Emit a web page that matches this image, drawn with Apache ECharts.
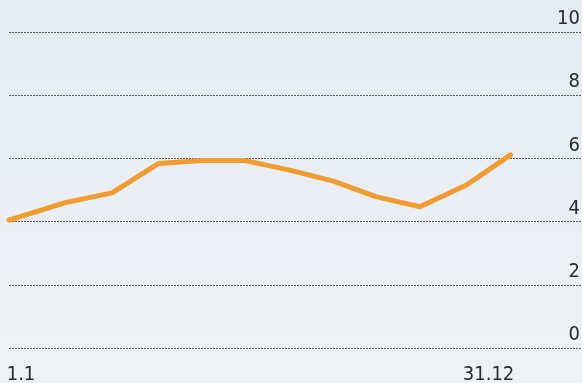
<!DOCTYPE html>
<html>
<head>
<meta charset="utf-8">
<script src="https://cdn.jsdelivr.net/npm/echarts@6/dist/echarts.min.js"></script>
<style>
  html, body { margin: 0; padding: 0; }
  #main { width: 582px; height: 383px; }
</style>
</head>
<body>
<div id="main"></div>
<script>
// day of year (1.1 = 0, 31.12 = 365) and value
var days = [0, 41, 75, 109, 141, 172, 205, 236, 267, 299, 333, 365];
var values = [4.05, 4.6, 4.91, 5.84, 5.93, 5.93, 5.62, 5.28, 4.79, 4.47, 5.16, 6.11];
var xTickLabels = { 0: '1.1', 365: '31.12' };
var yTicks = [0, 2, 4, 6, 8, 10];

var font = "'DejaVu Sans Condensed', 'DejaVu Sans', sans-serif";

var chart = echarts.init(document.getElementById('main'));

var labelStyle = { fontFamily: font, fontSize: 20, color: '#2b2b2b' };

var option = {
  backgroundColor: new echarts.graphic.LinearGradient(0, 0, 0, 1, [
    { offset: 0, color: '#e3ebf3' },
    { offset: 1, color: '#eef2f6' }
  ]),
  animation: false,
  grid: {
    left: 9,
    right: 0,
    top: 32,
    bottom: 35,
    containLabel: false,
    outerBoundsMode: 'none'
  },
  xAxis: {
    type: 'value',
    min: 0,
    max: 417,
    interval: 365,
    axisLine: { show: false },
    axisTick: { show: false },
    splitLine: { show: false },
    axisLabel: Object.assign({
      showMaxLabel: false,
      margin: 17,
      formatter: function (v) {
        if (v === 0) return '{a|' + xTickLabels[0] + '}';
        if (v === 365) return '{b|' + xTickLabels[365] + '}';
        return '';
      },
      rich: {
        a: Object.assign({ padding: [0, 0, 0, 24] }, labelStyle),
        b: Object.assign({ padding: [0, 44, 0, 0] }, labelStyle)
      }
    }, labelStyle)
  },
  yAxis: {
    type: 'value',
    position: 'right',
    min: yTicks[0],
    max: yTicks[yTicks.length - 1],
    interval: 2,
    axisLine: { show: false },
    axisTick: { show: false },
    splitLine: {
      lineStyle: { color: '#5a5a5a', width: 1, type: [2, 1] }
    },
    axisLabel: Object.assign({
      inside: true,
      margin: 2,
      verticalAlign: 'bottom',
      padding: [0, 0, 3, 0]
    }, labelStyle)
  },
  series: [{
    type: 'line',
    data: days.map(function (d, i) { return [d, values[i]]; }),
    symbol: 'none',
    lineStyle: { color: '#f29b2f', width: 5, cap: 'round', join: 'round' }
  }]
};

chart.setOption(option);
</script>
</body>
</html>
